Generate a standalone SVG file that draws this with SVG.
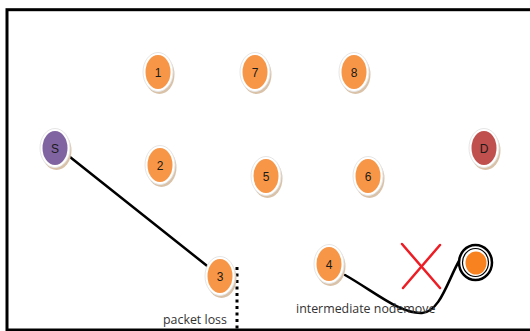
<svg xmlns="http://www.w3.org/2000/svg" width="530" height="331" viewBox="0 0 530 331">
<defs>
<style>
.sh{fill:#d9c2a8;}
.rim{fill:#ffffff;stroke:#e6e6e6;stroke-width:1;}
.or{fill:#f79646;}
.pu{fill:#8064a2;}
.rd{fill:#c0504d;}
.lb{font-family:"Liberation Sans",Arial,sans-serif;font-size:12px;fill:#1a1a1a;text-anchor:middle;}
.tx{font-family:"Open Sans","Liberation Sans",sans-serif;font-size:12.4px;fill:#333333;}
.edge{fill:none;stroke:#000000;stroke-width:2.5;stroke-linecap:round;}
</style>
<g id="nodeShape">
<ellipse class="sh" cx="1.5" cy="2.5" rx="15" ry="19.5"/>
<ellipse class="rim" cx="0" cy="0" rx="15" ry="19.5"/>
</g>
</defs>
<rect x="7" y="9.7" width="540" height="320.3" fill="#ffffff" stroke="#000000" stroke-width="3"/>
<g id="connectors">
<line class="edge" x1="70" y1="157" x2="211" y2="269"/>
<path class="edge" d="M345,275 C375,292 400,314 422,313 C440,312 448,280 459,261"/>
<line x1="237" y1="267" x2="237" y2="331" stroke="#000000" stroke-width="3" stroke-dasharray="3,3.5"/>
</g>
<g id="node-1"><use href="#nodeShape" x="158" y="72"/><ellipse class="or" cx="158" cy="72" rx="12.5" ry="17"/><text class="lb" x="158" y="76.5">1</text></g>
<g id="node-7"><use href="#nodeShape" x="255" y="72"/><ellipse class="or" cx="255" cy="72" rx="12.5" ry="17"/><text class="lb" x="255" y="76.5">7</text></g>
<g id="node-8"><use href="#nodeShape" x="354" y="72"/><ellipse class="or" cx="354" cy="72" rx="12.5" ry="17"/><text class="lb" x="354" y="76.5">8</text></g>
<g id="node-S"><use href="#nodeShape" x="55" y="148"/><ellipse class="pu" cx="55" cy="148" rx="12.5" ry="17"/><text class="lb" x="55" y="152.5">S</text></g>
<g id="node-2"><use href="#nodeShape" x="160" y="165"/><ellipse class="or" cx="160" cy="165" rx="12.5" ry="17"/><text class="lb" x="160" y="169.5">2</text></g>
<g id="node-5"><use href="#nodeShape" x="266" y="176"/><ellipse class="or" cx="266" cy="176" rx="12.5" ry="17"/><text class="lb" x="266" y="180.5">5</text></g>
<g id="node-6"><use href="#nodeShape" x="368" y="176"/><ellipse class="or" cx="368" cy="176" rx="12.5" ry="17"/><text class="lb" x="368" y="180.5">6</text></g>
<g id="node-D"><use href="#nodeShape" x="484" y="148"/><ellipse class="rd" cx="484" cy="148" rx="12.5" ry="17"/><text class="lb" x="484" y="152.5">D</text></g>
<g id="node-3"><use href="#nodeShape" x="220" y="276"/><ellipse class="or" cx="220" cy="276" rx="12.5" ry="17"/><text class="lb" x="220" y="280.5">3</text></g>
<g id="node-4"><use href="#nodeShape" x="329" y="264"/><ellipse class="or" cx="329" cy="264" rx="12.5" ry="17"/><text class="lb" x="329" y="268.5">4</text></g>
<g id="moved-node">
<ellipse cx="475.5" cy="262.5" rx="16.5" ry="17.5" fill="#ffffff" stroke="#000000" stroke-width="2.5"/>
<ellipse cx="475.5" cy="262.5" rx="13" ry="14" fill="none" stroke="#000000" stroke-width="1.2"/>
<ellipse cx="476" cy="263" rx="10.5" ry="11.5" fill="#f7821f"/>
</g>
<g id="cross" stroke="#ee1c24" stroke-width="2.5" stroke-linecap="round">
<line x1="402" y1="244" x2="440" y2="288"/>
<line x1="440" y1="245" x2="403" y2="288"/>
</g>
<text class="tx" x="163" y="324">packet loss</text>
<text class="tx" x="296" y="313">intermediate nodemove</text>
</svg>
